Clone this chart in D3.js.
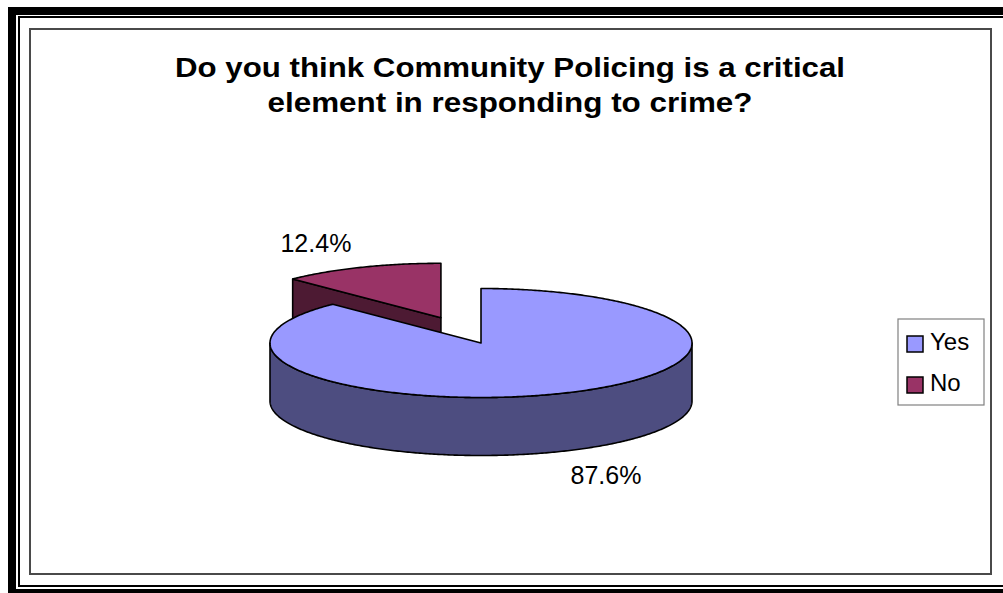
<!DOCTYPE html>
<html>
<head>
<meta charset="utf-8">
<script src="https://cdn.jsdelivr.net/npm/d3@7"></script>
<style>
  html, body { margin: 0; padding: 0; background: #fff; overflow: hidden; }
  svg { display: block; font-family: "Liberation Sans", Arial, sans-serif; }
</style>
</head>
<body>
<svg id="chart" width="1003" height="593"></svg>
<script>
// Survey answers
const categories = ["Yes", "No"];
const values = [87.6, 12.4];
const topColors = ["#9999FF", "#993366"];
const sideColors = ["#4D4D80", "#4D1A33"];
const explode = [0, 0.5];           // fraction of radius each slice is pulled out
const titleLines = [
  "Do you think Community Policing is a critical",
  "element in responding to crime?"
];

const svg = d3.select("#chart");

// Page frame: heavy outer band, thin inner rule, grey chart border
svg.append("rect").attr("x", 12).attr("y", 11).attr("width", 1200).attr("height", 582)
  .attr("fill", "none").attr("stroke", "#000").attr("stroke-width", 8);
svg.append("rect").attr("x", 19).attr("y", 17).attr("width", 1200).attr("height", 569)
  .attr("fill", "none").attr("stroke", "#000").attr("stroke-width", 2);
svg.append("rect").attr("x", 30).attr("y", 29).attr("width", 961).attr("height", 545)
  .attr("fill", "#fff").attr("stroke", "#4a4a4a").attr("stroke-width", 2);

// Title (two centred bold lines)
const titleWidths = [670, 485];
svg.append("g").selectAll("text").data(titleLines).join("text")
  .attr("x", 510)
  .attr("y", (d, i) => 77 + i * 35)
  .attr("text-anchor", "middle")
  .attr("font-size", 27.5)
  .attr("font-weight", "bold")
  .attr("textLength", (d, i) => titleWidths[i])
  .attr("lengthAdjust", "spacingAndGlyphs")
  .text(d => d);

// 3-D pie geometry
const cx = 481, cy = 343, rx = 211, ry = 54.5, depth = 58;
const pie = d3.pie().sort(null).value(d => d.value);
const arcs = pie(categories.map((c, i) => ({ name: c, value: values[i], i })));

const pt = (ox, oy, a, dy = 0) => [ox + rx * Math.sin(a), oy - ry * Math.cos(a) + dy];
const arcPoints = (ox, oy, a0, a1, dy = 0) => {
  const n = Math.max(2, Math.ceil((a1 - a0) / 0.01));
  return d3.range(n + 1).map(k => pt(ox, oy, a0 + (a1 - a0) * k / n, dy));
};
const line = d3.line();

arcs.forEach(a => {
  const mid = (a.startAngle + a.endAngle) / 2;
  const e = explode[a.data.i];
  a.ox = cx + e * rx * Math.sin(mid);
  a.oy = cy - e * ry * Math.cos(mid);
  a.mid = mid;
});

// draw the slice furthest back first
const order = arcs.slice().sort((p, q) => p.oy - q.oy);
const gPie = svg.append("g")
  .attr("stroke", "#000").attr("stroke-width", 1.6).attr("stroke-linejoin", "round");

order.forEach(a => {
  const i = a.data.i;
  const g = gPie.append("g");
  // visible radial cut faces
  const faces = [];
  if (Math.sin(a.startAngle) < -1e-6) faces.push(a.startAngle);
  if (Math.sin(a.endAngle) > 1e-6) faces.push(a.endAngle);
  faces.forEach(ang => {
    const p = pt(a.ox, a.oy, ang);
    const quad = [[a.ox, a.oy], p, [p[0], p[1] + depth], [a.ox, a.oy + depth]];
    g.append("path").attr("d", line(quad) + "Z").attr("fill", sideColors[i]);
  });
  // outer wall on the front half
  const s0 = Math.max(a.startAngle, Math.PI / 2);
  const s1 = Math.min(a.endAngle, 3 * Math.PI / 2);
  if (s1 > s0) {
    const top = arcPoints(a.ox, a.oy, s0, s1);
    const bottom = arcPoints(a.ox, a.oy, s0, s1, depth).reverse();
    g.append("path").attr("d", line(top.concat(bottom)) + "Z").attr("fill", sideColors[i]);
  }
  // top face
  const topFace = [[a.ox, a.oy]].concat(arcPoints(a.ox, a.oy, a.startAngle, a.endAngle));
  g.append("path").attr("d", line(topFace) + "Z").attr("fill", topColors[i]);
});

// Percentage labels, placed outside each slice along its mid-angle
const lk = 1.56;
svg.append("g").selectAll("text").data(arcs).join("text")
  .attr("x", a => a.ox + lk * rx * Math.sin(a.mid))
  .attr("y", a => {
    const front = Math.cos(a.mid) < 0;
    return a.oy - lk * ry * Math.cos(a.mid) + (front ? depth + 4 : 13);
  })
  .attr("text-anchor", "middle")
  .attr("font-size", 25)
  .attr("fill", "#000")
  .text(a => d3.format(".1f")(a.data.value) + "%");

// Legend
const leg = svg.append("g");
leg.append("rect").attr("x", 898).attr("y", 319).attr("width", 86).attr("height", 86)
  .attr("fill", "#fff").attr("stroke", "#808080").attr("stroke-width", 1.2);
const items = leg.selectAll("g.item").data(categories).join("g")
  .attr("class", "item")
  .attr("transform", (d, i) => `translate(907,${336 + i * 41})`);
items.append("rect").attr("width", 16).attr("height", 16)
  .attr("fill", (d, i) => topColors[i]).attr("stroke", "#000").attr("stroke-width", 1.5);
items.append("text").attr("x", 23).attr("y", 13.5)
  .attr("font-size", 24).attr("fill", "#000").text(d => d);
</script>
</body>
</html>
